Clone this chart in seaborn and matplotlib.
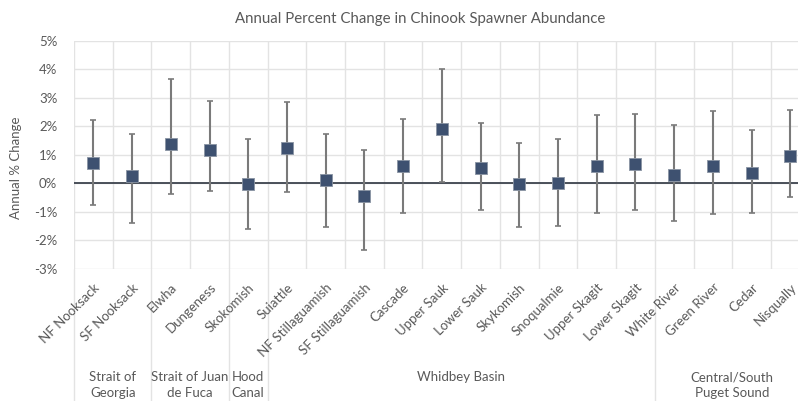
import numpy as np
import pandas as pd
import matplotlib
matplotlib.use("Agg")
import matplotlib.pyplot as plt
import matplotlib.transforms as mtransforms
import seaborn as sns

# Populations, grouped by region
sites = ["NF Nooksack", "SF Nooksack", "Elwha", "Dungeness", "Skokomish",
         "Suiattle", "NF Stillaguamish", "SF Stillaguamish", "Cascade",
         "Upper Sauk", "Lower Sauk", "Skykomish", "Snoqualmie", "Upper Skagit",
         "Lower Skagit", "White River", "Green River", "Cedar", "Nisqually"]
pct_change = [0.71, 0.27, 1.39, 1.15, -0.02, 1.24, 0.10, -0.43, 0.59,
              1.89, 0.55, -0.02, 0.02, 0.59, 0.66, 0.30, 0.61, 0.37, 0.94]
ci_upper = [2.23, 1.74, 3.67, 2.89, 1.55, 2.86, 1.74, 1.15, 2.26,
            4.02, 2.10, 1.40, 1.55, 2.38, 2.44, 2.06, 2.54, 1.86, 2.58]
ci_lower = [-0.77, -1.40, -0.36, -0.26, -1.59, -0.29, -1.52, -2.34, -1.06,
            0.05, -0.94, -1.54, -1.50, -1.03, -0.93, -1.32, -1.07, -1.05, -0.49]
regions = ["Strait of\nGeorgia", "Strait of Juan\nde Fuca", "Hood\nCanal",
           "Whidbey Basin", "Central/South\nPuget Sound"]
region_sizes = [2, 2, 1, 10, 4]
y_ticks = [-3, -2, -1, 0, 1, 2, 3, 4, 5]

df = pd.DataFrame({"site": sites, "pct": pct_change,
                   "lo": ci_lower, "hi": ci_upper})

sns.set_theme(style="white")
plt.rcParams["font.family"] = ["Lato", "DejaVu Sans"]
txt = "#595959"

fig = plt.figure(figsize=(7.98, 4.01), dpi=100)
ax = fig.add_axes([74 / 798, 1 - 268.8 / 401, 735.7 / 798, 228.1 / 401])

xpos = np.arange(len(df))
ax.errorbar(xpos, df["pct"], yerr=[df["pct"] - df["lo"], df["hi"] - df["pct"]],
            fmt="none", ecolor="#7a7a7a", elinewidth=1.5, capsize=2,
            capthick=1.2, zorder=3)
sns.scatterplot(data=df, x="site", y="pct", marker="s", s=85,
                color="#3e5170", edgecolor="#8a94a3", linewidth=0.6,
                zorder=4, ax=ax, legend=False)

ax.set_xlim(-0.5, len(df) - 0.5)
ax.set_ylim(-3, 5)
ax.set_yticks(y_ticks)
ax.set_yticklabels([f"{t}%" for t in y_ticks])
ax.set_xticks(xpos)
ax.set_xticklabels(sites, rotation=45, ha="right", va="top",
                   rotation_mode="anchor")

# grid: horizontal per percent, vertical between categories
for t in y_ticks:
    ax.axhline(t, color="#e3e3e3", lw=1, zorder=0)
for b in np.arange(-0.5, len(df), 1.0):
    ax.axvline(b, color="#e3e3e3", lw=1, zorder=0)
ax.axhline(0, color="#2e3540", lw=1.2, zorder=2)

for s in ax.spines.values():
    s.set_visible(False)
ax.tick_params(axis="both", length=0, colors=txt, labelsize=9.5)
ax.tick_params(axis="x", pad=9)
ax.tick_params(axis="y", pad=12)
ax.set_xlabel("")
ax.set_ylabel("Annual % Change", color=txt, fontsize=9.5)
ax.yaxis.set_label_coords(-0.071, 0.445)

fig.text(420.5 / 798, 1 - 19 / 401,
         "Annual Percent Change in Chinook Spawner Abundance",
         color=txt, fontsize=10.8, ha="center", va="center")

# region separators and labels beneath the category labels
trans = mtransforms.blended_transform_factory(ax.transData, ax.transAxes)
edges = np.concatenate([[0], np.cumsum(region_sizes)]) - 0.5
for e in edges:
    ax.plot([e, e], [0, -0.58], color="#e3e3e3", lw=1, transform=trans,
            clip_on=False, zorder=0)
for name, a, b in zip(regions, edges[:-1], edges[1:]):
    ax.text((a + b) / 2, -0.45, name, transform=trans, ha="center",
            va="top", color=txt, fontsize=9.5, linespacing=1.35)

fig.savefig("out.png", dpi=100, facecolor="white")
